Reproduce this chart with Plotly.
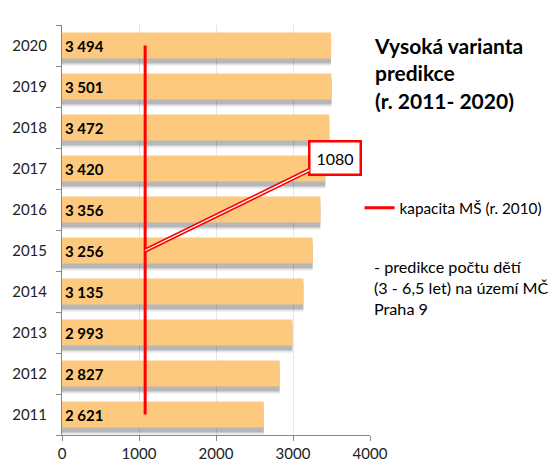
import plotly.graph_objects as go

years = ["2011", "2012", "2013", "2014", "2015", "2016", "2017", "2018", "2019", "2020"]
predikce = [2621, 2827, 2993, 3135, 3256, 3356, 3420, 3472, 3501, 3494]
kapacita = 1080
kapacita_label = "kapacita MŠ (r. 2010)"
x_ticks = [0, 1000, 2000, 3000, 4000]
callout_year = "2015"

labels = [f"{v:,}".replace(",", " ") for v in predikce]
FONT = "Lato"
BAR_W = 0.64

fig = go.Figure()
# soft shadow under bars (two layers)
for off, alpha in [(0.17, 0.10), (0.12, 0.20)]:
    fig.add_trace(go.Bar(
        y=years, x=predikce, orientation="h", width=BAR_W, offset=-BAR_W / 2 - off,
        marker=dict(color=f"rgba(0,0,0,{alpha})", line=dict(width=0)),
        hoverinfo="skip", showlegend=False,
    ))
fig.add_trace(go.Bar(
    y=years, x=predikce, orientation="h", width=BAR_W,
    marker=dict(color="#FDC97E", line=dict(width=0)),
    text=labels, textposition="inside", insidetextanchor="start",
    textfont=dict(family=FONT, size=15, color="#000000", weight="bold"),
    constraintext="none", showlegend=False,
))
fig.add_trace(go.Scatter(
    y=years, x=[kapacita] * len(years), mode="lines",
    line=dict(color="#FF0000", width=3),
    name=kapacita_label,
))

# callout: red wedge with a white core, then the label box
for aw, ac in [(4.5, "#FF0000"), (1.3, "#FFFFFF")]:
    fig.add_annotation(
        x=kapacita, y=years.index(callout_year), xref="x", yref="y",
        text=str(kapacita), showarrow=True, arrowhead=0,
        arrowcolor=ac, arrowwidth=aw,
        ax=190, ay=-93,
        bgcolor="white", bordercolor="#FF0000", borderwidth=2.5, borderpad=6,
        font=dict(family=FONT, size=16, color="#000000"),
    )

fig.add_annotation(
    x=1.006, y=0.985, xref="paper", yref="paper", xanchor="left", yanchor="top",
    align="left", showarrow=False,
    text="<b>Vysoká varianta<br>predikce<br>(r. 2011- 2020)</b>",
    font=dict(family=FONT, size=21, color="#000000"),
)
fig.add_annotation(
    x=1.006, y=0.44, xref="paper", yref="paper", xanchor="left", yanchor="top",
    align="left", showarrow=False,
    text="- predikce počtu dětí<br>(3 - 6,5 let) na území MČ<br>Praha 9",
    font=dict(family=FONT, size=16.2, color="#000000"),
)

fig.update_layout(
    width=549, height=465,
    margin=dict(l=62, r=179, t=25, b=30, autoexpand=False),
    paper_bgcolor="white", plot_bgcolor="white",
    barmode="overlay",
    font=dict(family=FONT, size=14, color="#222222"),
    showlegend=True,
    legend=dict(x=0.966, y=0.554, xanchor="left", yanchor="middle",
                font=dict(family=FONT, size=15.3, color="#000000"),
                bgcolor="rgba(0,0,0,0)"),
    xaxis=dict(range=[0, 4000], autorange=False, tickvals=x_ticks, showgrid=True,
               gridcolor="#E6E6E6", automargin=False,
               showline=True, linecolor="#888888", ticks="outside", ticklen=5,
               tickcolor="#888888", zeroline=False,
               tickfont=dict(family=FONT, size=15, color="#222222")),
    yaxis=dict(type="category", categoryorder="array", categoryarray=years,
               range=[-0.5, len(years) - 0.5], autorange=False, automargin=False,
               showline=True, linecolor="#888888", ticks="outside", ticklen=5,
               tickcolor="#888888", tickson="boundaries", showgrid=False,
               ticklabelstandoff=11,
               tickfont=dict(family=FONT, size=15, color="#222222")),
)

fig.write_html(
    "out.html",
    config={"displayModeBar": False},
    post_script="document.body.style.margin='0';document.body.style.overflow='hidden';",
)
